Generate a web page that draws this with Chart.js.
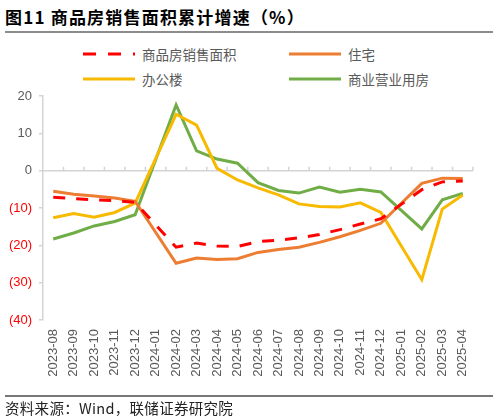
<!DOCTYPE html>
<html>
<head>
<meta charset="utf-8">
<script src="https://cdn.jsdelivr.net/npm/chart.js@4"></script>
<style>
    body { margin: 0; width: 499px; height: 420px; position: relative; background: #fff; overflow: hidden;
        font-family: "Liberation Sans", "Noto Sans CJK SC", sans-serif; }
    #chart-wrap { position: absolute; left: 0; top: 0; width: 499px; height: 420px; }
    .title { position: absolute; left: 5px; top: 4px; font: bold 17px "Noto Sans CJK SC", sans-serif; color: #000; letter-spacing: 1.2px; }
    .rule { position: absolute; left: 5px; width: 488px; height: 2px; background: #8c8c8c; }
    .legend-item { position: absolute; display: flex; align-items: center; font: 13.5px "Noto Sans CJK SC", sans-serif; color: #595959; }
    .legend-item svg { margin-right: 7px; }
    .source { position: absolute; left: 5px; top: 397px; font: 14.5px "Noto Sans CJK SC", sans-serif; color: #222; letter-spacing: 0.3px; }
</style>
</head>
<body>
<div class="title">图11 商品房销售面积累计增速（%）</div>
<div class="rule" style="top: 31px;"></div>
<div id="legend"></div>
<div id="chart-wrap"><canvas id="chart"></canvas></div>
<div class="rule" style="top: 395px; height: 1.5px; background: #777;"></div>
<div class="source">资料来源：Wind，联储证券研究院</div>
<script>
const months = ['2023-08', '2023-09', '2023-10', '2023-11', '2023-12', '2024-01', '2024-02', '2024-03',
    '2024-04', '2024-05', '2024-06', '2024-07', '2024-08', '2024-09', '2024-10', '2024-11', '2024-12',
    '2025-01', '2025-02', '2025-03', '2025-04'];

// no January data, the line just spans the gap
const saleArea = [-7.1, -7.5, -7.8, -8.0, -8.5, null, -20.5, -19.4, -20.2, -20.3, -19.0, -18.6, -18.0,
    -17.1, -15.8, -14.3, -12.9, null, -5.1, -3.0, -2.8];
const residential = [-5.5, -6.3, -6.8, -7.3, -8.2, null, -24.8, -23.4, -23.8, -23.6, -21.9, -21.1, -20.5,
    -19.2, -17.7, -16.0, -14.1, null, -3.4, -2.0, -2.1];
const office = [-12.6, -11.5, -12.5, -11.2, -8.7, null, 15.1, 12.2, 0.6, -2.5, -4.6, -6.5, -8.9,
    -9.6, -9.7, -8.6, -11.2, null, -29.2, -10.3, -6.5];
const commercial = [-18.3, -16.7, -14.8, -13.6, -11.8, null, 17.6, 5.3, 3.1, 2.0, -3.2, -5.3, -6.0,
    -4.4, -5.8, -5.0, -5.7, null, -15.6, -7.8, -6.1];

const yTicks = [-40, -30, -20, -10, 0, 10, 20];

const series = [
    { label: '商品房销售面积', data: saleArea, color: '#FF0000', dash: [12, 11] },
    { label: '住宅', data: residential, color: '#ED7D31', dash: [] },
    { label: '办公楼', data: office, color: '#F7BA00', dash: [] },
    { label: '商业营业用房', data: commercial, color: '#70AD47', dash: [] }
];

// legend, 2 x 2
const legendPos = [[83, 54], [289, 54], [83, 79], [289, 79]];
const legend = document.getElementById('legend');
series.forEach((s, i) => {
    const item = document.createElement('div');
    item.className = 'legend-item';
    item.style.left = legendPos[i][0] + 'px';
    item.style.top = (legendPos[i][1] - 10) + 'px';
    item.style.height = '20px';
    const dashAttr = s.dash.length ? ` stroke-dasharray="13 12"` : '';
    item.innerHTML = `<svg width="52" height="4"><line x1="0" y1="2" x2="52" y2="2" stroke="${s.color}" stroke-width="3"${dashAttr}/></svg>${s.label}`;
    legend.appendChild(item);
});

// zero line with small category ticks, drawn under the series
const zeroAxis = {
    id: 'zeroAxis',
    beforeDatasetsDraw(chart) {
        const { ctx, chartArea, scales } = chart;
        const y0 = scales.y.getPixelForValue(0);
        const n = months.length;
        const step = (chartArea.right - chartArea.left) / n;
        ctx.save();
        ctx.strokeStyle = '#D4D4D4';
        ctx.lineWidth = 1.5;
        ctx.beginPath();
        ctx.moveTo(chartArea.left, y0);
        ctx.lineTo(chartArea.right, y0);
        for (let i = 1; i <= n; i++) {
            const x = chartArea.left + step * i;
            ctx.moveTo(x, y0);
            ctx.lineTo(x, y0 - 4);
        }
        ctx.stroke();
        ctx.restore();
    }
};

new Chart(document.getElementById('chart'), {
    type: 'line',
    data: {
        labels: months,
        datasets: series.map(s => ({
            label: s.label,
            data: s.data,
            borderColor: s.color,
            backgroundColor: s.color,
            borderWidth: 3,
            borderDash: s.dash,
            pointRadius: 0,
            tension: 0,
            spanGaps: true
        }))
    },
    options: {
        responsive: true,
        maintainAspectRatio: false,
        animation: false,
        layout: { padding: { top: 96, right: 26, bottom: 40, left: 0 } },
        plugins: { legend: { display: false }, tooltip: { enabled: false } },
        scales: {
            x: {
                offset: true,
                grid: { display: false, drawTicks: false },
                border: { display: false },
                ticks: {
                    minRotation: 90, maxRotation: 90, autoSkip: false, padding: 9,
                    color: '#595959', font: { family: 'Liberation Sans', size: 13 }
                },
                afterFit(scale) { scale.height = 60; }
            },
            y: {
                min: -40, max: 20,
                afterBuildTicks(scale) { scale.ticks = yTicks.map(v => ({ value: v })); },
                grid: { drawOnChartArea: false, color: '#D4D4D4', lineWidth: 1.5, tickLength: 4 },
                border: { color: '#D4D4D4', width: 1.5 },
                ticks: {
                    padding: 7,
                    font: { family: 'Liberation Sans', size: 13 },
                    color: ctx => ctx.tick.value < 0 ? '#FF0000' : '#595959',
                    callback: v => v < 0 ? '(' + (-v) + ')' : String(v)
                },
                afterFit(scale) { scale.width = 43; }
            }
        }
    },
    plugins: [zeroAxis]
});
</script>
</body>
</html>
